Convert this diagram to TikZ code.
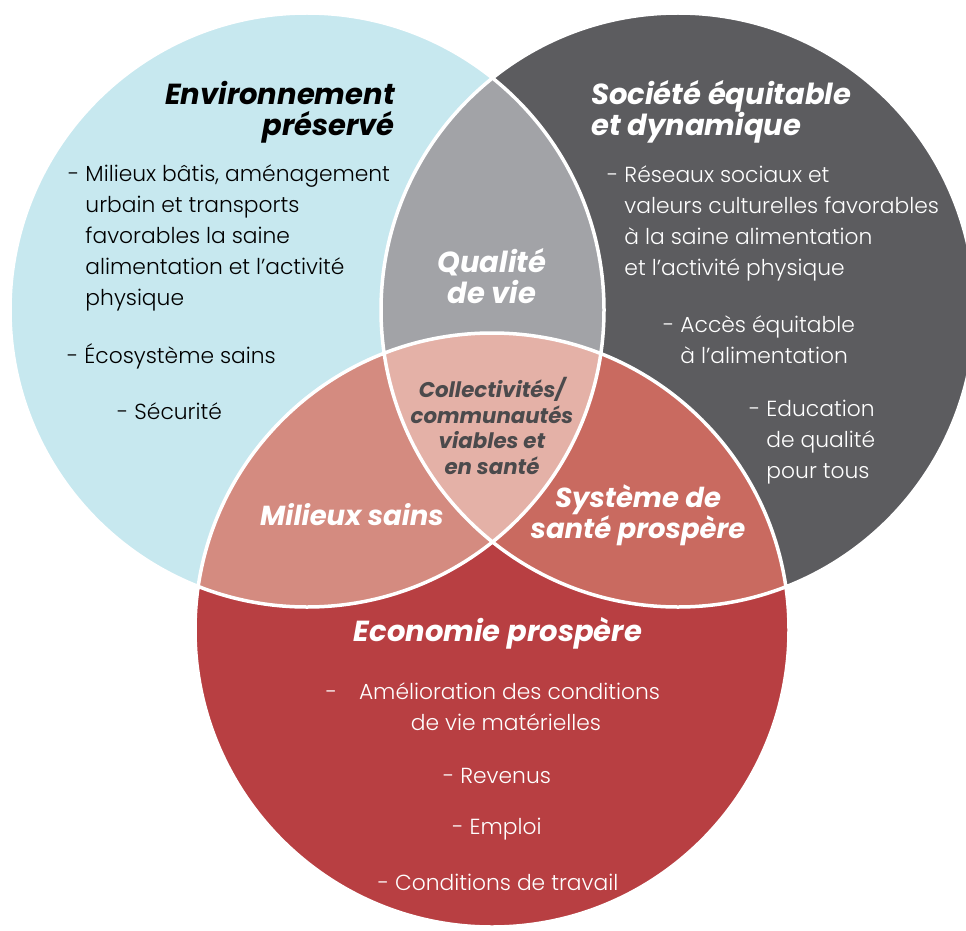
\documentclass[tikz,border=0pt]{standalone}
\usepackage{fontspec}
\setmainfont{Poppins Light}
\newfontfamily\headfont{Poppins}
\usepackage{xcolor}
\definecolor{envblue}{HTML}{C7E8EF}
\definecolor{socgrey}{HTML}{5C5C5F}
\definecolor{ecored}{HTML}{B83F42}
\definecolor{qualgrey}{HTML}{A2A3A7}
\definecolor{milrose}{HTML}{D48B80}
\definecolor{santerose}{HTML}{C96A60}
\definecolor{centrerose}{HTML}{E4B1A7}
\definecolor{centretext}{HTML}{4B4A4C}

\begin{document}
\begin{tikzpicture}[x=1pt,y=-1pt,
  head node/.style={inner sep=0pt,align=center,font=\headfont\bfseries\itshape\fontsize{29}{31}\selectfont},
  item node/.style={inner sep=0pt,align=left,font=\fontsize{21.8}{31}\selectfont}]
\useasboundingbox (0,0) rectangle (966,931);
\coordinate (env) at (307,310);
\coordinate (soc) at (678,310);
\coordinate (eco) at (492,630);
\def\vennr{297}

% the three circles
\fill[envblue] (env) circle (\vennr);
\fill[socgrey] (soc) circle (\vennr);
\fill[ecored] (eco) circle (\vennr);
% overlaps
\begin{scope}
  \clip (soc) circle (\vennr);
  \fill[santerose] (eco) circle (\vennr);
\end{scope}
\begin{scope}
  \clip (env) circle (\vennr);
  \fill[qualgrey] (soc) circle (\vennr);
  \fill[milrose] (eco) circle (\vennr);
  \clip (soc) circle (\vennr);
  \fill[centrerose] (eco) circle (\vennr);
\end{scope}
\draw[white,line width=3.5] (env) circle (\vennr) (soc) circle (\vennr) (eco) circle (\vennr);

% environnement
\node[head node,align=right,anchor=east] (envtitle) at (395,112) {Environnement\\préservé};
\node[item node,anchor=west] (env1) at (68,238) {- Milieux bâtis, aménagement\\\hphantom{- }urbain et transports\\\hphantom{- }favorables la saine\\\hphantom{- }alimentation et l’activité\\\hphantom{- }physique};
\node[item node,anchor=west] (env2) at (67,356) {- Écosystème sains};
\node[item node,anchor=west] (env3) at (117,411) {- Sécurité};

% societe
\node[head node,align=left,anchor=west,white] (soctitle) at (591,112) {Société équitable\\et dynamique};
\node[item node,anchor=west,white] (soc1) at (607,223) {- Réseaux sociaux et\\\hphantom{- }valeurs culturelles favorables\\\hphantom{- }à la saine alimentation\\\hphantom{- }et l’activité physique};
\node[item node,anchor=west,white] (soc2) at (663,340) {- Accès équitable\\\hphantom{- }à l’alimentation};
\node[item node,anchor=west,white] (soc3) at (749,442) {- Education\\\hphantom{- }de qualité\\\hphantom{- }pour tous};

% economie
\node[head node,white] (ecotitle) at (498,633) {Economie prospère};
\node[item node,align=center,white] (eco1) at (493,707) {-\quad Amélioration des conditions\\\hspace*{26pt}de vie matérielles};
\node[item node,white] (eco2) at (497,776) {- Revenus};
\node[item node,white] (eco3) at (497,829) {- Emploi};
\node[item node,white] (eco4) at (498,882) {- Conditions de travail};

% overlaps
\node[head node,white] (qual) at (492,276) {Qualité\\de vie};
\node[head node,white,font=\headfont\bfseries\itshape\fontsize{27.5}{30}\selectfont] (mil) at (352,515) {Milieux sains};
\node[head node,white,font=\headfont\bfseries\itshape\fontsize{27.5}{30}\selectfont] (sante) at (638,515) {Système de\\santé prospère};
\node[head node,centretext,font=\headfont\bfseries\itshape\fontsize{21.3}{25.5}\selectfont] (centre) at (492,426) {Collectivités/\\communautés\\viables et\\en santé};
\end{tikzpicture}
\end{document}
